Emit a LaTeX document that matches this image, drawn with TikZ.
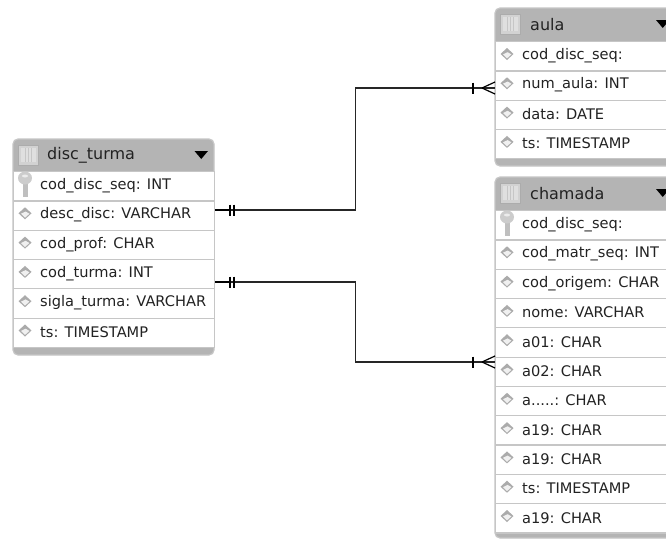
\documentclass[tikz,border=0pt]{standalone}
\usepackage{fontspec}
\setmainfont{DejaVu Sans}
\definecolor{hdr}{HTML}{B4B4B4}
\definecolor{edge}{HTML}{C6C6C6}
\definecolor{ink}{HTML}{222222}
\definecolor{dia}{HTML}{ABABAB}
\tikzset{
  x=1pt,y=-1pt,
  tablebox/.style={fill=hdr,draw=edge,line width=1.2pt,rounded corners=5pt},
  rowbox/.style={draw=edge,line width=1.2pt,fill=white},
  rowtext/.style={anchor=west,inner sep=0pt,text=ink,font=\fontsize{14.6}{16}\selectfont},
  titletext/.style={anchor=west,inner sep=0pt,text=ink,font=\fontsize{16}{18}\selectfont},
  conn/.style={draw=black!85,line width=1.1pt},
  thickstub/.style={draw=black,line width=2.2pt},
  barmark/.style={draw=black,line width=1.5pt},
  crowmark/.style={draw=black,line width=1.2pt},
}
\newcommand{\tblicon}[2]{%
  \fill[gray!35!white,draw=gray!65!white,line width=.8pt] (#1,#2) rectangle ++(20,20);
  \fill[gray!25!white] (#1+2.5,#2+3) rectangle ++(15,14);
  \foreach \q in {7,10,13}{\draw[gray!45!white,line width=1pt] (#1+\q,#2+3) -- ++(0,14);}
}
\newcommand{\tri}[2]{\fill[black] (#1,#2) -- ++(13.5,0) -- ++(-6.75,8) -- cycle;}
\newcommand{\diam}[2]{%
  \fill[dia] (#1,#2-6) -- (#1+6.5,#2) -- (#1,#2+6) -- (#1-6.5,#2) -- cycle;
  \fill[gray!12!white] (#1+.6,#2-1.8) -- (#1+4.4,#2+.4) -- (#1,#2+4.4) -- (#1-4,#2+.4) -- cycle;}
\newcommand{\keyicon}[2]{%
  \fill[gray!50!white] (#1-2.5,#2) rectangle (#1+2.5,#2+17);
  \fill[gray!40!white] (#1,#2-2) ellipse [x radius=7,y radius=6.5];
  \fill[gray!15!white] (#1,#2-4) ellipse [x radius=3,y radius=1.5];
}
\newcommand{\trow}[6]{%
  \node[rowbox,minimum width=#3pt,minimum height=#5pt,inner sep=0pt,anchor=north west] (#1) at (#2,#4) {};
  \diam{#2+12}{#4+13}
  \node[rowtext] (#1t) at (#2+27,#4+14.7) {#6};
}
\newcommand{\krow}[6]{%
  \node[rowbox,minimum width=#3pt,minimum height=#5pt,inner sep=0pt,anchor=north west] (#1) at (#2,#4) {};
  \keyicon{#2+12}{#4+9}
  \node[rowtext] (#1t) at (#2+27,#4+14.7) {#6};
}
\begin{document}
\begin{tikzpicture}
\useasboundingbox (0,0) rectangle (666,539);
\clip (0,0) rectangle (666,539);
\fill[white] (0,0) rectangle (666,539);

% disc_turma
\path[tablebox] (13,139) rectangle (214,355);
\tblicon{18}{145}
\node[titletext] (dtt) at (47,155) {disc\_turma};
\tri{194.5}{151}
\krow{d1}{13}{201}{171}{29.3}{cod\_disc\_seq: INT}
\trow{d2}{13}{201}{200.3}{29.3}{desc\_disc: VARCHAR}
\trow{d3}{13}{201}{229.6}{29.3}{cod\_prof: CHAR}
\trow{d4}{13}{201}{258.9}{29.3}{cod\_turma: INT}
\trow{d5}{13}{201}{288.2}{29.3}{sigla\_turma: VARCHAR}
\trow{d6}{13}{201}{317.5}{29.3}{ts: TIMESTAMP}

% aula
\path[tablebox] (495,8) rectangle (690,166);
\tblicon{500}{14}
\node[titletext] (at) at (530,25) {aula};
\tri{656}{20}
\trow{a1}{495}{195}{41}{29.3}{cod\_disc\_seq:}
\trow{a2}{495}{195}{70.3}{29.3}{num\_aula: INT}
\trow{a3}{495}{195}{99.6}{29.3}{data: DATE}
\trow{a4}{495}{195}{128.9}{29.3}{ts: TIMESTAMP}

% chamada
\path[tablebox] (495,177) rectangle (690,538);
\tblicon{500}{183}
\node[titletext] (ct) at (530,194) {chamada};
\tri{656}{189}
\krow{c1}{495}{195}{210}{29.3}{cod\_disc\_seq:}
\trow{c2}{495}{195}{239.3}{29.3}{cod\_matr\_seq: INT}
\trow{c3}{495}{195}{268.6}{29.3}{cod\_origem: CHAR}
\trow{c4}{495}{195}{297.9}{29.3}{nome: VARCHAR}
\trow{c5}{495}{195}{327.2}{29.3}{a01: CHAR}
\trow{c6}{495}{195}{356.5}{29.3}{a02: CHAR}
\trow{c7}{495}{195}{385.8}{29.3}{a.....: CHAR}
\trow{c8}{495}{195}{415.1}{29.3}{a19: CHAR}
\trow{c9}{495}{195}{444.4}{29.3}{a19: CHAR}
\trow{c10}{495}{195}{473.7}{29.3}{ts: TIMESTAMP}
\trow{c11}{495}{195}{503}{29.3}{a19: CHAR}

% connectors
\coordinate (p1) at (d2.east |- 0,210);
\coordinate (q1) at (a2.west |- 0,88);
\coordinate (p2) at (d4.east |- 0,282);
\coordinate (q2) at (c5.west |- 0,362);
\draw[conn] (p1) -- ++(140.5,0) |- (q1);
\draw[conn] (p2) -- ++(140.5,0) |- (q2);
\foreach \s/\e in {p1/q1,p2/q2}{
  \draw[thickstub] (\s) -- ++(14,0);
  \draw[barmark] ([xshift=15pt,yshift=5.5pt]\s) -- ++(0,11);
  \draw[barmark] ([xshift=19pt,yshift=5.5pt]\s) -- ++(0,11);
  \draw[barmark] ([xshift=-22pt,yshift=5.5pt]\e) -- ++(0,11);
  \draw[crowmark] ([xshift=-13pt]\e) -- ([yshift=6pt]\e);
  \draw[crowmark] ([xshift=-13pt]\e) -- ([yshift=-6pt]\e);
}
\end{tikzpicture}
\end{document}
